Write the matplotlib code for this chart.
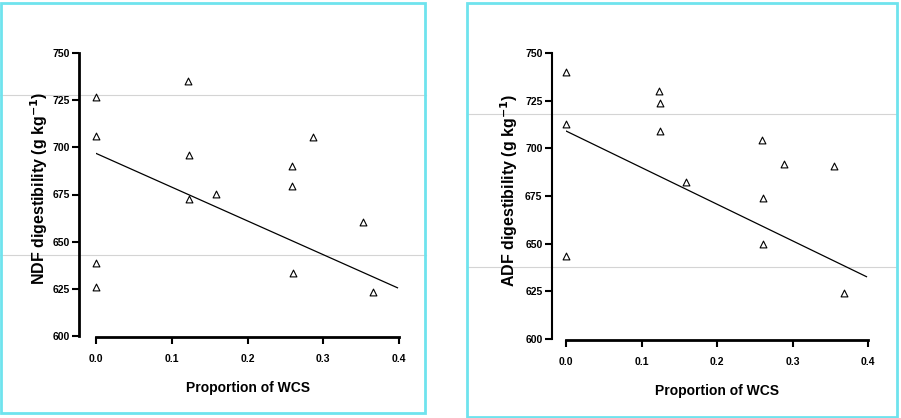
import matplotlib.pyplot as plt
from matplotlib.patches import Rectangle
from matplotlib.lines import Line2D

# NDF panel
ndf_x = [0.0, 0.0, 0.0, 0.0, 0.122, 0.123, 0.123, 0.158, 0.259, 0.259, 0.26, 0.287, 0.353, 0.366]
ndf_y = [726.8, 706.2, 638.5, 626.2, 735.3, 696.0, 672.6, 675.3, 690.1, 679.4, 633.3, 705.3, 660.3, 623.3]
ndf_fit = [696.8, -179.0]   # intercept, slope

# ADF panel
adf_x = [0.0, 0.0, 0.0, 0.123, 0.124, 0.124, 0.159, 0.26, 0.261, 0.261, 0.289, 0.355, 0.368]
adf_y = [740.2, 712.6, 643.6, 730.2, 723.6, 709.3, 682.2, 704.2, 674.0, 650.0, 691.6, 690.9, 624.1]
adf_fit = [709.1, -192.0]

xticks = [0.0, 0.1, 0.2, 0.3, 0.4]
xticklabels = ['0.0', '0.1', '0.2', '0.3', '0.4']
yticks = [600, 625, 650, 675, 700, 725, 750]

plt.rcParams['font.family'] = ['Liberation Sans', 'DejaVu Sans']

fig = plt.figure(figsize=(9.01, 4.18), dpi=100)
W, H = 901, 418

def px(x0, y0, x1, y1):
    return [x0 / W, 1 - y1 / H, (x1 - x0) / W, (y1 - y0) / H]

cyan = '#6fe3ee'
fig.patches.append(Rectangle((1 / W, 1 - 413 / H), 424 / W, 410 / H, transform=fig.transFigure,
                             fill=False, edgecolor=cyan, lw=2))
fig.patches.append(Rectangle((467 / W, 1 - 417 / H), 430 / W, 414 / H, transform=fig.transFigure,
                             fill=False, edgecolor=cyan, lw=2))

# faint horizontal lines across panels
for (xa, xb, yy) in [(0, 426, 95), (0, 426, 255), (467, 897, 114), (467, 897, 267)]:
    fig.lines.append(Line2D([xa / W, xb / W], [1 - yy / H, 1 - yy / H], transform=fig.transFigure,
                            color='#d4d4d4', lw=0.8, zorder=-1))

panels = [
    (px(96, 53, 399, 336), ndf_x, ndf_y, ndf_fit, 'NDF digestibility (g kg$^{\\mathbf{-1}}$)', 12, 2.0),
    (px(566, 53, 868, 339), adf_x, adf_y, adf_fit, 'ADF digestibility (g kg$^{\\mathbf{-1}}$)', 10, 1.5),
]

for rect, xs, ys, fit, ylab, off, spw in panels:
    ax = fig.add_axes(rect)
    ax.set_facecolor('none')
    ax.scatter(xs, ys, marker='^', s=24, facecolors='white', edgecolors='black', linewidths=0.8,
               zorder=3, clip_on=False)
    fx = [0.0, 0.398]
    fy = [fit[0] + fit[1] * v for v in fx]
    ax.plot(fx, fy, color='black', lw=0.9)
    ax.set_xlim(0, 0.4)
    ax.set_ylim(600, 750)
    ax.spines['top'].set_visible(False)
    ax.spines['right'].set_visible(False)
    ax.spines['left'].set_position(('outward', off))
    ax.spines['bottom'].set_position(('outward', 1))
    ax.spines['left'].set_linewidth(spw)
    ax.spines['bottom'].set_linewidth(2.0)
    ax.set_xticks(xticks)
    ax.set_xticklabels(xticklabels)
    ax.set_yticks(yticks)
    ax.tick_params(axis='both', labelsize=7.5, width=1.5, length=5)
    ax.tick_params(axis='x', pad=7)
    ax.tick_params(axis='y', pad=2)
    for t in ax.get_xticklabels() + ax.get_yticklabels():
        t.set_fontweight('bold')
    ax.set_xlabel('Proportion of WCS', fontsize=10, fontweight='bold', labelpad=12)
    ax.set_ylabel(ylab, fontsize=11.5, fontweight='bold')
    ax.yaxis.set_label_coords(-0.152, 0.52)

fig.savefig('out.png', dpi=100)
